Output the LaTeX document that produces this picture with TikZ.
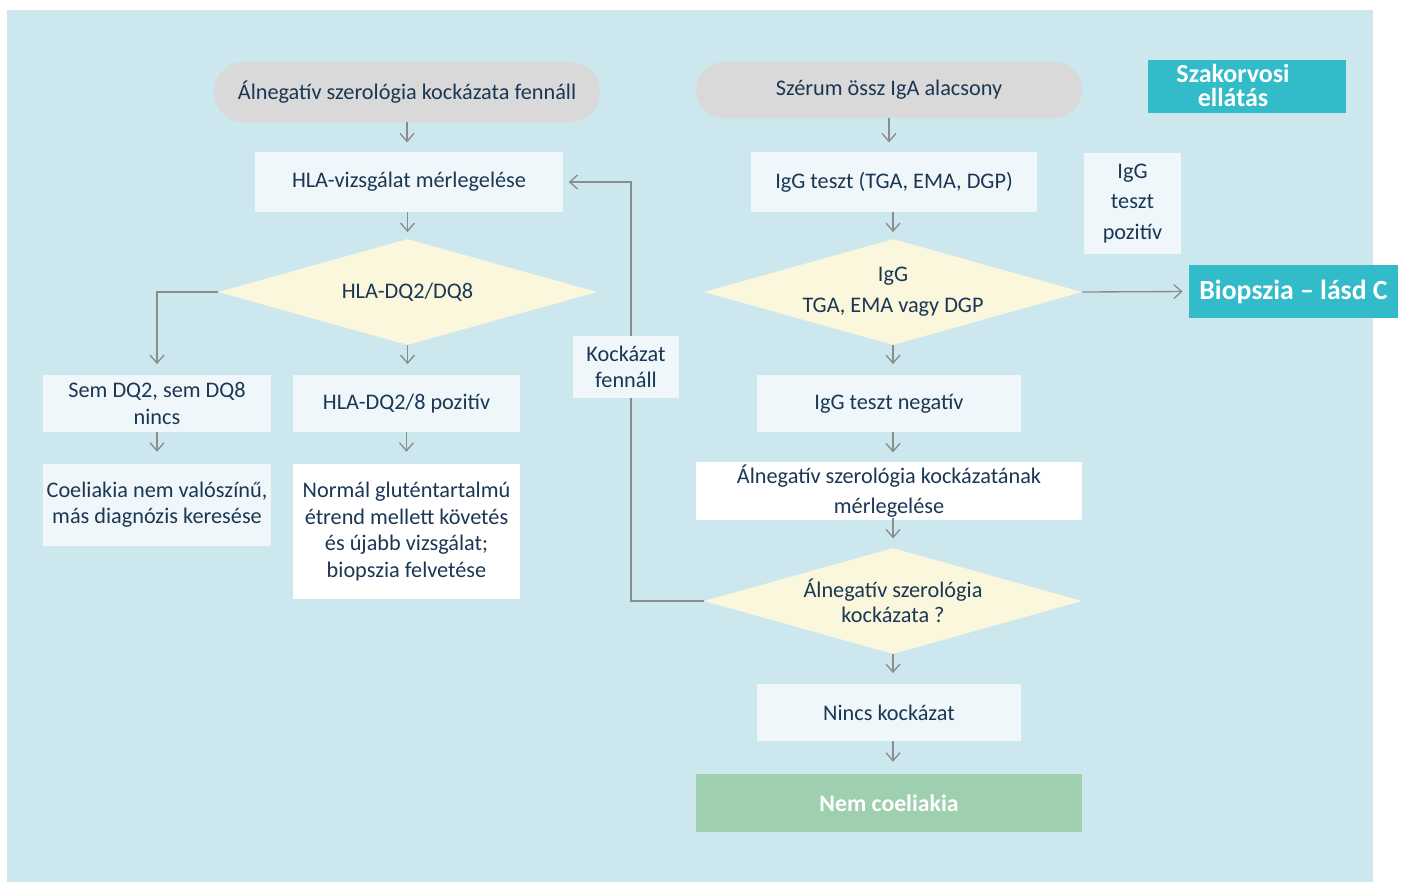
\documentclass[tikz,border=0pt]{standalone}
\usepackage{fontspec}
\setmainfont{Carlito}
\usetikzlibrary{shapes.geometric,arrows.meta}
\definecolor{bgblue}{HTML}{CCE8EE}
\definecolor{boxlight}{HTML}{EFF7FA}
\definecolor{diayel}{HTML}{FAF7DC}
\definecolor{termgrey}{HTML}{D9D9D9}
\definecolor{tealbox}{HTML}{32BBC8}
\definecolor{greenbox}{HTML}{9ECFAF}
\definecolor{navy}{HTML}{1B3754}
\definecolor{arrgrey}{HTML}{8C8C8C}
\tikzset{
  base/.style={inner sep=0pt, align=center, text=navy, font=\fontsize{16.7}{19}\selectfont},
  proc/.style={base, rectangle, fill=boxlight},
  wproc/.style={base, rectangle, fill=white},
  term/.style={base, rectangle, fill=termgrey},
  dec/.style={base, diamond, aspect=3.57, fill=diayel},
  hilite/.style={inner sep=0pt, align=center, text=white, font=\bfseries},
  arr/.style={draw=arrgrey, line width=1pt, -{Straight Barb[length=6pt,width=10.5pt]}},
  link/.style={draw=arrgrey, line width=1pt},
}
\begin{document}
\begin{tikzpicture}[x=0.75pt,y=-0.75pt]
\useasboundingbox (0,0) rectangle (1407,882);
\fill[bgblue] (7,10) rectangle (1373,882);

% left column
\node[term, minimum width=289.5pt, minimum height=45pt, rounded corners=22pt] (t1) at (407,92) {Álnegatív szerológia kockázata fennáll};
\node[proc, minimum width=231pt, minimum height=45pt] (h1) at (409,182) {HLA-vizsgálat mérlegelése};
\node[dec, minimum width=284.25pt, minimum height=79.5pt] (d1) at (407.5,292) {HLA-DQ2/DQ8};
\node[proc, minimum width=171pt, minimum height=42.75pt, font=\fontsize{16.7}{20}\selectfont] (n1) at (157,403.5) {Sem DQ2, sem DQ8\\nincs};
\node[proc, minimum width=170.25pt, minimum height=42.75pt] (n2) at (406.5,403.5) {HLA-DQ2/8 pozitív};
\node[proc, minimum width=171pt, minimum height=61.5pt, font=\fontsize{16.7}{19.5}\selectfont] (n3) at (157,505) {Coeliakia nem valószínű,\\más diagnózis keresése};
\node[wproc, minimum width=170.25pt, minimum height=101.25pt, font=\fontsize{16.7}{20}\selectfont] (n4) at (406.5,531.5) {Normál gluténtartalmú\\étrend mellett követés\\és újabb vizsgálat;\\biopszia felvetése};

% right column
\node[term, minimum width=289.5pt, minimum height=42pt, rounded corners=21pt] (t2) at (889,90) {Szérum össz IgA alacsony};
\node[proc, minimum width=214.5pt, minimum height=45pt] (g1) at (894,182) {IgG teszt (TGA, EMA, DGP)};
\node[proc, minimum width=72.75pt, minimum height=75.75pt, font=\fontsize{16.7}{23}\selectfont] (pos) at (1132.5,203.5) {IgG\\teszt\\pozitív};
\node[dec, minimum width=283.5pt, minimum height=79.5pt, font=\fontsize{16.7}{23}\selectfont] (d2) at (893,292) {IgG\\TGA, EMA vagy DGP};
\node[proc, minimum width=198pt, minimum height=42.75pt] (g2) at (889,403.5) {IgG teszt negatív};
\node[wproc, minimum width=289.5pt, minimum height=43.5pt, font=\fontsize{16.7}{23}\selectfont] (a1) at (889,491) {Álnegatív szerológia kockázatának\\mérlegelése};
\node[dec, minimum width=283.5pt, minimum height=79.5pt, font=\fontsize{16.7}{19}\selectfont] (d3) at (893,601) {Álnegatív szerológia\\kockázata ?};
\node[proc, minimum width=198pt, minimum height=42.75pt] (nk) at (889,712.5) {Nincs kockázat};
\node[hilite, rectangle, fill=greenbox, minimum width=289.5pt, minimum height=43.5pt, font=\bfseries\fontsize{17.8}{20}\selectfont] (nc) at (889,803) {Nem coeliakia};

% specialist boxes
\node[rectangle, fill=tealbox, minimum width=148.5pt, minimum height=39.75pt, inner sep=0pt] (sz) at (1247,86.5) {};
\node[hilite, font=\bfseries\fontsize{19.5}{17.5}\selectfont] (szt) at (1233,85.5) {Szakorvosi\\ellátás};
\node[hilite, rectangle, fill=tealbox, minimum width=156.75pt, minimum height=39.75pt, font=\bfseries\fontsize{20.8}{22}\selectfont] (bio) at (1293.5,291.5) {Biopszia -- lásd C};

% connectors
\draw[arr, shorten >=7pt] (t1.south) -- (t1.south |- h1.north);
\draw[arr, shorten >=5pt] (h1.south -| d1.north) -- (d1.north);
\draw[arr, shorten >=8pt] (d1.south) -- (d1.south |- n2.north);
\draw[arr, shorten >=8pt] (d1.west) -- (n1.north |- d1.west) -- (n1.north);
\draw[arr, shorten >=9pt] (n1.south) -- (n3.north);
\draw[arr, shorten >=9pt] (n2.south) -- (n4.north);

\draw[arr, shorten >=7pt] (t2.south) -- (t2.south |- g1.north);
\draw[arr, shorten >=5pt] (g1.south -| d2.north) -- (d2.north);
\draw[arr, shorten >=8pt] (d2.south) -- (d2.south |- g2.north);
\draw[arr, shorten >=7pt] (g2.south -| d2.south) -- (d2.south |- a1.north);
\draw[arr, shorten >=7pt] ([yshift=1.5pt]a1.south -| d3.north) -- (d3.north);
\draw[arr, shorten >=8pt] (d3.south) -- (d3.south |- nk.north);
\draw[arr, shorten >=9pt] (nk.south -| d3.south) -- (d3.south |- nc.north);
\draw[arr, shorten >=4.5pt] (d2.east) -- (bio.west);

\coordinate (fb) at (631,601);
\draw[arr, shorten >=4pt] (d3.west) -- (fb) |- (h1.east);
\node[proc, minimum width=79.5pt, minimum height=46.5pt, font=\fontsize{16.7}{20}\selectfont] (kf) at (626,367) {Kockázat\\fennáll};
\end{tikzpicture}
\end{document}
